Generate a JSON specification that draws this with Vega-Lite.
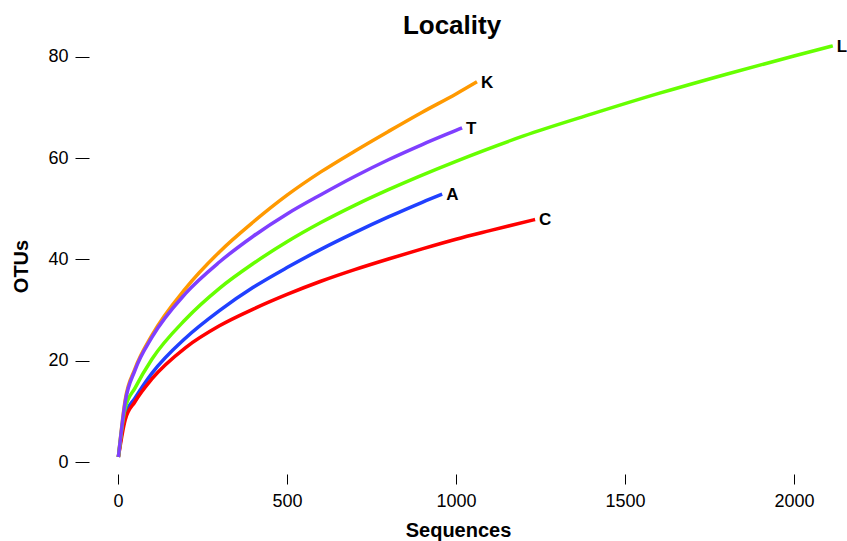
{
  "$schema": "https://vega.github.io/schema/vega-lite/v6.json",
  "autosize": {"type": "none"},
  "width": 758,
  "height": 444,
  "padding": {"left": 89, "top": 30, "right": 0, "bottom": 67},
  "background": "white",
  "config": {
    "view": {"stroke": null},
    "font": "Liberation Sans",
    "axis": {"grid": false, "domain": false, "tickColor": "black", "tickWidth": 1, "labelColor": "black", "titleColor": "black", "labelFont": "Liberation Sans", "titleFont": "Liberation Sans"}
  },
  "title": {"text": "Locality", "fontSize": 26, "fontWeight": "bold", "font": "Liberation Sans", "color": "black", "baseline": "alphabetic", "frame": "group", "offset": -3, "dx": -16, "dy": 27},
  "datasets": {
    "curves": [
      {"locality": "A", "sequences": 1, "otus": 1},
      {"locality": "A", "sequences": 21, "otus": 9.4},
      {"locality": "A", "sequences": 50, "otus": 12.6},
      {"locality": "A", "sequences": 100, "otus": 17.5},
      {"locality": "A", "sequences": 200, "otus": 24.5},
      {"locality": "A", "sequences": 300, "otus": 29.9},
      {"locality": "A", "sequences": 400, "otus": 34.5},
      {"locality": "A", "sequences": 500, "otus": 38.4},
      {"locality": "A", "sequences": 600, "otus": 42.0},
      {"locality": "A", "sequences": 700, "otus": 45.3},
      {"locality": "A", "sequences": 800, "otus": 48.4},
      {"locality": "A", "sequences": 900, "otus": 51.3},
      {"locality": "A", "sequences": 959, "otus": 52.9},
      {"locality": "C", "sequences": 1, "otus": 1},
      {"locality": "C", "sequences": 21, "otus": 8.3},
      {"locality": "C", "sequences": 50, "otus": 11.9},
      {"locality": "C", "sequences": 100, "otus": 16.4},
      {"locality": "C", "sequences": 200, "otus": 22.6},
      {"locality": "C", "sequences": 300, "otus": 26.9},
      {"locality": "C", "sequences": 400, "otus": 30.2},
      {"locality": "C", "sequences": 500, "otus": 33.1},
      {"locality": "C", "sequences": 600, "otus": 35.7},
      {"locality": "C", "sequences": 700, "otus": 38.0},
      {"locality": "C", "sequences": 800, "otus": 40.1},
      {"locality": "C", "sequences": 900, "otus": 42.1},
      {"locality": "C", "sequences": 1000, "otus": 44.0},
      {"locality": "C", "sequences": 1100, "otus": 45.7},
      {"locality": "C", "sequences": 1234, "otus": 47.9},
      {"locality": "K", "sequences": 1, "otus": 1},
      {"locality": "K", "sequences": 21, "otus": 12.2},
      {"locality": "K", "sequences": 50, "otus": 18.4},
      {"locality": "K", "sequences": 100, "otus": 25.0},
      {"locality": "K", "sequences": 200, "otus": 34.3},
      {"locality": "K", "sequences": 300, "otus": 41.5},
      {"locality": "K", "sequences": 400, "otus": 47.4},
      {"locality": "K", "sequences": 500, "otus": 52.7},
      {"locality": "K", "sequences": 600, "otus": 57.3},
      {"locality": "K", "sequences": 700, "otus": 61.4},
      {"locality": "K", "sequences": 800, "otus": 65.3},
      {"locality": "K", "sequences": 900, "otus": 69.1},
      {"locality": "K", "sequences": 1000, "otus": 72.7},
      {"locality": "K", "sequences": 1062, "otus": 75.1},
      {"locality": "L", "sequences": 1, "otus": 1},
      {"locality": "L", "sequences": 21, "otus": 10.6},
      {"locality": "L", "sequences": 50, "otus": 14.6},
      {"locality": "L", "sequences": 100, "otus": 20.3},
      {"locality": "L", "sequences": 200, "otus": 28.2},
      {"locality": "L", "sequences": 300, "otus": 34.3},
      {"locality": "L", "sequences": 400, "otus": 39.2},
      {"locality": "L", "sequences": 500, "otus": 43.5},
      {"locality": "L", "sequences": 600, "otus": 47.3},
      {"locality": "L", "sequences": 700, "otus": 50.7},
      {"locality": "L", "sequences": 800, "otus": 53.8},
      {"locality": "L", "sequences": 1000, "otus": 59.4},
      {"locality": "L", "sequences": 1200, "otus": 64.4},
      {"locality": "L", "sequences": 1400, "otus": 68.7},
      {"locality": "L", "sequences": 1600, "otus": 72.8},
      {"locality": "L", "sequences": 1800, "otus": 76.6},
      {"locality": "L", "sequences": 2000, "otus": 80.2},
      {"locality": "L", "sequences": 2115, "otus": 82.2},
      {"locality": "T", "sequences": 1, "otus": 1},
      {"locality": "T", "sequences": 21, "otus": 11.8},
      {"locality": "T", "sequences": 50, "otus": 18.1},
      {"locality": "T", "sequences": 100, "otus": 24.6},
      {"locality": "T", "sequences": 200, "otus": 33.3},
      {"locality": "T", "sequences": 300, "otus": 39.5},
      {"locality": "T", "sequences": 400, "otus": 44.6},
      {"locality": "T", "sequences": 500, "otus": 49.0},
      {"locality": "T", "sequences": 600, "otus": 52.8},
      {"locality": "T", "sequences": 700, "otus": 56.4},
      {"locality": "T", "sequences": 800, "otus": 59.7},
      {"locality": "T", "sequences": 900, "otus": 62.7},
      {"locality": "T", "sequences": 1000, "otus": 65.5},
      {"locality": "T", "sequences": 1018, "otus": 66.0}
    ],
    "ends": [
      {"locality": "A", "sequences": 959, "otus": 52.9},
      {"locality": "C", "sequences": 1234, "otus": 47.9},
      {"locality": "K", "sequences": 1062, "otus": 75.1},
      {"locality": "L", "sequences": 2115, "otus": 82.2},
      {"locality": "T", "sequences": 1018, "otus": 66.0}
    ]
  },
  "layer": [
    {
      "data": {"name": "curves"},
      "mark": {"type": "line", "strokeWidth": 3.5, "interpolate": "monotone", "clip": false},
      "encoding": {
        "x": {"field": "sequences", "type": "quantitative", "scale": {"domain": [-86, 2157], "nice": false, "zero": false},
          "axis": {"values": [0, 500, 1000, 1500, 2000], "tickSize": 10, "labelFontSize": 18, "labelPadding": 8, "title": "Sequences", "titleFontSize": 20, "titleFontWeight": "bold", "titlePadding": 10, "titleX": 369, "format": "d"}},
        "y": {"field": "otus", "type": "quantitative", "scale": {"domain": [-2.37, 85.33], "nice": false, "zero": false},
          "axis": {"values": [0, 20, 40, 60, 80], "tickSize": 14, "labelFontSize": 18, "labelPadding": 7, "title": "OTUs", "titleFontSize": 20, "titleFontWeight": "bold", "titlePadding": 16, "titleY": 236, "labelBaseline": "middle"}},
        "color": {"field": "locality", "type": "nominal", "legend": null,
          "scale": {"domain": ["A", "C", "K", "L", "T"], "range": ["#2040FF", "#FF0000", "#FF9900", "#66FF00", "#7F3FFF"]}}
      }
    },
    {
      "data": {"name": "ends"},
      "mark": {"type": "text", "align": "left", "baseline": "middle", "dx": 4, "dy": 1, "fontSize": 17, "fontWeight": "bold", "color": "black", "font": "Liberation Sans"},
      "encoding": {
        "x": {"field": "sequences", "type": "quantitative"},
        "y": {"field": "otus", "type": "quantitative"},
        "text": {"field": "locality"}
      }
    },
    {
      "mark": {"type": "rule", "color": "black", "strokeWidth": 1},
      "encoding": {"x": {"datum": 0}, "x2": {"datum": 2000}, "y": {"datum": -2.37}}
    },
    {
      "mark": {"type": "rule", "color": "black", "strokeWidth": 1},
      "encoding": {"x": {"datum": -86}, "y": {"datum": 0}, "y2": {"datum": 80}}
    }
  ]
}
